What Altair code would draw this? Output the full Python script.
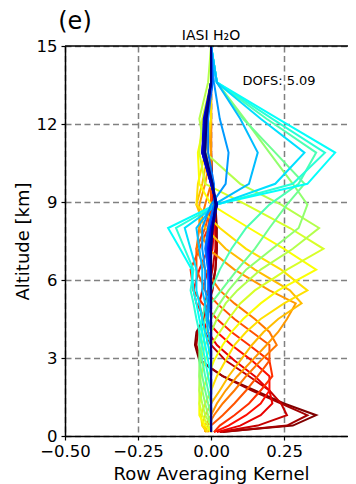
import altair as alt
import pandas as pd

# Altitude levels [km] of the kernel rows (vertices)
altitude_km = [0.15, 0.4, 0.8, 1.25, 1.75, 2.3, 2.9, 3.5, 4.0, 4.5, 5.1, 5.6,
               6.4, 7.2, 8.0, 8.9, 9.7, 10.9, 12.2, 13.6, 15.0]

ak_00 = [0.03, 0.28, 0.36, 0.25, 0.15, 0.04, -0.04, -0.055, -0.05, -0.025, -0.01, 0.0, 0.015, 0.02, 0.02, 0.015, 0.005, 0.0, 0.0, 0.0, 0.0]
ak_01 = [0.04, 0.26, 0.33, 0.24, 0.14, 0.04, -0.035, -0.05, -0.045, -0.02, -0.01, 0.005, 0.015, 0.02, 0.015, 0.01, 0.0, 0.0, 0.0, 0.0, 0.0]
ak_02 = [0.03, 0.16, 0.26, 0.24, 0.2, 0.13, 0.05, 0.0, -0.02, -0.025, -0.02, -0.01, 0.005, 0.015, 0.015, 0.01, 0.0, 0.0, 0.0, 0.0, 0.0]
ak_03 = [0.02, 0.1, 0.17, 0.21, 0.2, 0.15, 0.08, 0.02, -0.01, -0.03, -0.04, -0.03, -0.01, 0.005, 0.01, 0.005, 0.0, 0.0, 0.0, 0.0, 0.0]
ak_04 = [0.01, 0.06, 0.12, 0.17, 0.2, 0.2, 0.14, 0.07, 0.02, -0.02, -0.05, -0.06, -0.04, -0.01, 0.005, 0.005, 0.0, 0.0, 0.0, 0.0, 0.0]
ak_05 = [0.01, 0.03, 0.08, 0.13, 0.17, 0.21, 0.2, 0.13, 0.07, 0.02, -0.03, -0.06, -0.07, -0.04, -0.01, 0.0, 0.0, 0.0, 0.0, 0.0, 0.0]
ak_06 = [-0.01, 0.0, 0.04, 0.08, 0.12, 0.16, 0.2, 0.2, 0.14, 0.08, 0.02, -0.02, -0.05, -0.05, -0.02, 0.0, 0.0, 0.0, 0.0, 0.0, 0.0]
ak_07 = [-0.02, -0.01, 0.01, 0.04, 0.08, 0.12, 0.17, 0.225, 0.2, 0.15, 0.08, 0.03, -0.02, -0.05, -0.04, -0.02, 0.0, 0.0, 0.0, 0.0, 0.0]
ak_08 = [-0.02, -0.02, 0.0, 0.02, 0.05, 0.09, 0.14, 0.19, 0.23, 0.26, 0.29, 0.2, 0.08, -0.01, -0.04, -0.04, -0.02, 0.0, 0.0, 0.0, 0.0]
ak_09 = [-0.015, -0.03, -0.02, 0.0, 0.03, 0.06, 0.1, 0.14, 0.18, 0.23, 0.31, 0.27, 0.15, 0.05, -0.02, -0.05, -0.03, -0.01, 0.0, 0.0, 0.0]
ak_10 = [-0.01, -0.03, -0.035, -0.02, 0.0, 0.02, 0.05, 0.08, 0.12, 0.17, 0.25, 0.33, 0.24, 0.12, 0.03, -0.05, -0.045, -0.02, 0.0, 0.0, 0.0]
ak_11 = [0.0, -0.02, -0.04, -0.04, -0.03, -0.01, 0.01, 0.04, 0.07, 0.11, 0.17, 0.23, 0.36, 0.25, 0.13, 0.0, -0.04, -0.045, -0.02, 0.0, 0.0]
ak_12 = [0.0, -0.01, -0.03, -0.04, -0.04, -0.035, -0.02, 0.0, 0.03, 0.06, 0.1, 0.15, 0.26, 0.385, 0.27, 0.12, -0.02, -0.04, -0.03, 0.0, 0.0]
ak_13 = [0.0, 0.0, -0.02, -0.03, -0.04, -0.04, -0.035, -0.02, 0.0, 0.02, 0.05, 0.09, 0.17, 0.28, 0.37, 0.24, 0.1, -0.02, -0.04, -0.01, 0.0]
ak_14 = [0.0, 0.0, -0.01, -0.02, -0.03, -0.04, -0.04, -0.03, -0.02, 0.0, 0.03, 0.06, 0.12, 0.21, 0.3, 0.33, 0.28, 0.2, 0.115, 0.02, 0.0]
ak_15 = [0.0, 0.0, 0.0, -0.01, -0.02, -0.03, -0.04, -0.04, -0.03, -0.02, 0.0, 0.035, 0.09, 0.15, 0.2, 0.26, 0.32, 0.22, 0.11, 0.02, 0.0]
ak_16 = [0.0, 0.0, 0.0, 0.0, -0.01, -0.02, -0.03, -0.04, -0.04, -0.03, -0.02, 0.0, 0.03, 0.07, 0.12, 0.2, 0.3, 0.36, 0.19, 0.02, 0.0]
ak_17 = [0.0, 0.0, 0.0, 0.0, 0.0, -0.01, -0.02, -0.03, -0.04, -0.05, -0.06, -0.07, -0.06, -0.09, -0.12, 0.02, 0.28, 0.39, 0.21, 0.02, 0.0]
ak_18 = [0.0, 0.0, 0.0, 0.0, 0.0, 0.0, -0.01, -0.02, -0.03, -0.04, -0.05, -0.06, -0.066, -0.106, -0.147, 0.015, 0.33, 0.425, 0.23, 0.02, 0.0]
ak_19 = [0.0, 0.0, 0.0, 0.0, 0.0, 0.0, 0.0, -0.01, -0.02, -0.03, -0.04, -0.05, -0.05, -0.07, -0.09, 0.02, 0.22, 0.32, 0.17, 0.02, 0.0]
ak_20 = [0.0, 0.0, 0.0, 0.0, 0.0, 0.0, 0.0, 0.0, -0.01, -0.015, -0.02, -0.03, -0.03, -0.04, -0.05, 0.01, 0.13, 0.16, 0.1, 0.02, 0.0]
ak_21 = [0.0, 0.0, 0.0, 0.0, 0.0, 0.0, 0.0, 0.0, 0.0, -0.01, -0.01, -0.02, -0.02, -0.03, -0.03, 0.0, 0.05, 0.06, 0.03, 0.01, 0.0]
ak_22 = [0.0, 0.0, 0.0, 0.0, 0.0, 0.0, 0.0, 0.0, 0.0, 0.0, -0.005, -0.01, -0.01, -0.02, -0.01, 0.01, 0.01, -0.01, -0.01, 0.005, 0.0]
ak_23 = [0.0, 0.0, 0.0, 0.0, 0.0, 0.0, 0.0, 0.0, 0.0, 0.0, 0.0, -0.005, -0.01, -0.015, -0.005, 0.015, 0.005, -0.02, -0.015, 0.005, 0.0]
ak_24 = [0.0, 0.0, 0.0, 0.0, 0.0, 0.0, 0.0, 0.0, 0.0, 0.0, 0.0, 0.0, -0.005, -0.01, 0.0, 0.02, 0.0, -0.025, -0.02, 0.0, 0.0]
ak_25 = [0.0, 0.0, 0.0, 0.0, 0.0, 0.0, 0.0, 0.0, 0.0, 0.0, 0.0, 0.0, -0.005, -0.01, 0.0, 0.02, 0.0, -0.03, -0.02, 0.0, 0.0]
ak_26 = [0.0, 0.0, 0.0, 0.0, 0.0, 0.0, 0.0, 0.0, 0.0, 0.0, 0.0, 0.0, 0.0, -0.005, 0.0, 0.02, 0.0, -0.03, -0.025, 0.0, 0.0]
ak_27 = [0.0, 0.0, 0.0, 0.0, 0.0, 0.0, 0.0, 0.0, 0.0, 0.0, 0.0, 0.0, 0.0, -0.005, 0.005, 0.02, 0.0, -0.03, -0.02, 0.0, 0.0]
ak_28 = [0.0, 0.0, 0.0, 0.0, 0.0, 0.0, 0.0, 0.0, 0.0, 0.0, 0.0, 0.0, 0.0, 0.0, 0.005, 0.02, 0.005, -0.025, -0.02, 0.0, 0.0]
ak_29 = [0.0, 0.0, 0.0, 0.0, 0.0, 0.0, 0.0, 0.0, 0.0, 0.0, 0.0, 0.0, 0.0, 0.0, 0.005, 0.015, 0.005, -0.02, -0.015, 0.0, 0.0]

kernels = [ak_00, ak_01, ak_02, ak_03, ak_04, ak_05, ak_06, ak_07, ak_08, ak_09,
           ak_10, ak_11, ak_12, ak_13, ak_14, ak_15, ak_16, ak_17, ak_18, ak_19,
           ak_20, ak_21, ak_22, ak_23, ak_24, ak_25, ak_26, ak_27, ak_28, ak_29]

x_ticks = [-0.5, -0.25, 0.0, 0.25]
y_ticks = [0, 3, 6, 9, 12, 15]
title_text = "IASI H\u2082O"
panel_label = "(e)"
dofs_text = "DOFS: 5.09"

rows = []
for i, k in enumerate(kernels):
    for z, v in zip(altitude_km, k):
        rows.append({"row": i, "z": z, "ak": v})
df = pd.DataFrame(rows)


def jet(f):
    def c(v):
        return min(max(v, 0.0), 1.0)
    r = c(1.5 - abs(4 * f - 3))
    g = c(1.5 - abs(4 * f - 2))
    b = c(1.5 - abs(4 * f - 1))
    return "#%02x%02x%02x" % (round(r * 255), round(g * 255), round(b * 255))


n = len(kernels)
colors = [jet(1 - i / (n - 1)) for i in range(n)]

W, H = 283, 390
FONT = "DejaVu Sans"

xscale = alt.Scale(domain=[-0.5, 0.469], nice=False, zero=False)
yscale = alt.Scale(domain=[0, 15], nice=False, zero=False)

lines = alt.Chart(df).mark_line(strokeWidth=2, clip=True).encode(
    x=alt.X("ak:Q", scale=xscale,
            axis=alt.Axis(values=x_ticks, format=".2f", title="Row Averaging Kernel",
                          titleFontSize=18, titlePadding=6, labelFontSize=16.5,
                          labelPadding=3, labelFlush=False, labelOverlap=False,
                          titleX=146)),
    y=alt.Y("z:Q", scale=yscale,
            axis=alt.Axis(values=y_ticks, title="Altitude [km]", titleFontSize=18,
                          titlePadding=4, labelFontSize=16.5, labelPadding=4,
                          labelFlush=False, labelOverlap=False)),
    color=alt.Color("row:N", scale=alt.Scale(domain=list(range(n)), range=colors), legend=None),
    order=alt.Order("z:Q"),
)

top_rule = alt.Chart(pd.DataFrame({"top": [15]})).mark_rule(color="black", strokeWidth=1.5).encode(
    y=alt.Y("top:Q", scale=yscale), x=alt.value(0), x2=alt.value(W)
)

title_mark = alt.Chart(pd.DataFrame({"t": [title_text]})).mark_text(
    fontSize=14, font=FONT, color="black", baseline="middle", align="center"
).encode(text="t:N", x=alt.value(146), y=alt.value(-10))

label_mark = alt.Chart(pd.DataFrame({"t": [panel_label]})).mark_text(
    fontSize=24, font=FONT, color="black", baseline="middle", align="center"
).encode(text="t:N", x=alt.value(10), y=alt.value(-24))

dofs_mark = alt.Chart(pd.DataFrame({"t": [dofs_text]})).mark_text(
    fontSize=13, font=FONT, color="black", baseline="middle", align="center"
).encode(text="t:N", x=alt.value(214), y=alt.value(35))

chart = alt.layer(lines, top_rule, title_mark, label_mark, dofs_mark).properties(
    width=W, height=H,
    autosize=alt.AutoSizeParams(type="none"),
    padding={"left": 57, "top": 38, "right": 0, "bottom": 48},
).configure_view(stroke=None).configure_axis(
    domainColor="black", domainWidth=1.5, tickColor="black", tickWidth=1.2, tickSize=4,
    labelColor="black", titleColor="black", labelFont=FONT, titleFont=FONT,
    titleFontWeight="normal", grid=True, gridColor="#808080", gridWidth=1.5,
    gridDash=[6, 3.5], gridOpacity=1,
)

chart.save("out.html", embed_options={"renderer": "svg", "actions": False})
